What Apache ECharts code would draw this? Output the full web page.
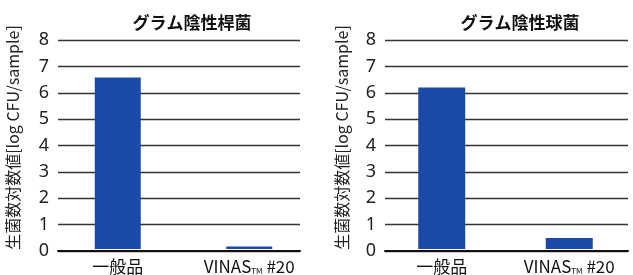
<!DOCTYPE html>
<html>
<head>
<meta charset="utf-8">
<script src="https://cdn.jsdelivr.net/npm/echarts@6/dist/echarts.min.js"></script>
<style>
  html, body { margin: 0; padding: 0; background: #fff; }
  #chart { width: 633px; height: 275px; }
</style>
</head>
<body>
<div id="chart"></div>
<script>
const categories = ['一般品', 'VINAS™ #20'];
const titles = ['グラム陰性桿菌', 'グラム陰性球菌'];
const rodValues = [6.56, 0.1];
const coccusValues = [6.18, 0.42];
const yMin = 0, yMax = 8, yStep = 1;
const yName = '生菌数対数値[log CFU/sample]';

const jp = '"Noto Sans CJK JP", "Noto Sans", sans-serif';
const barColor = '#1a49aa';

// category label: small "TM" after VINAS
function catLabel(v) {
  if (v.indexOf('™') < 0) return '{a|' + v + '}';
  const parts = v.split('™');
  return '{a|' + parts[0] + '}{tm|TM}{a|' + parts[1] + '}';
}

const labelRich = {
  a: { fontFamily: jp, fontSize: 17, color: '#111' },
  tm: { fontFamily: jp, fontSize: 8, color: '#111', verticalAlign: 'bottom', padding: [7, 0, 0, 0] }
};

// grids: line grid (gridlines, y ticks) + bar grid per panel
const grids = [
  { left: 58, right: 333, top: 40, bottom: 24 },
  { left: 52, width: 263, top: 40, bottom: 24 },
  { left: 385, right: 5, top: 40, bottom: 24 },
  { left: 378, width: 267, top: 40, bottom: 24 }
];

function lineX(gi) {
  return {
    type: 'category', gridIndex: gi, data: categories,
    axisLabel: { show: false }, axisTick: { show: false },
    axisLine: { lineStyle: { color: '#111', width: 2 } }
  };
}
function barX(gi) {
  return {
    type: 'category', gridIndex: gi, data: categories,
    axisLine: { show: false }, axisTick: { show: false },
    axisLabel: { interval: 0, margin: 9, formatter: catLabel, rich: labelRich }
  };
}
function lineY(gi, gap) {
  return {
    type: 'value', gridIndex: gi, min: yMin, max: yMax, interval: yStep,
    name: yName, nameLocation: 'middle', nameGap: gap,
    nameTextStyle: { fontFamily: jp, fontSize: 16, color: '#222', padding: [0, 0, 0, 16] },
    axisLine: { show: false }, axisTick: { show: false },
    axisLabel: { margin: 9, fontFamily: '"Noto Sans", sans-serif', fontSize: 18, color: '#222' },
    splitLine: { lineStyle: { color: '#333', width: 1.3 } }
  };
}
function barY(gi) {
  return { type: 'value', gridIndex: gi, min: yMin, max: yMax, interval: yStep, show: false, splitLine: { show: false } };
}

const option = {
  animation: false,
  backgroundColor: '#fff',
  title: [
    { text: titles[0], left: 187, top: 9, textAlign: 'center',
      textStyle: { fontFamily: jp, fontSize: 17, fontWeight: 'bold', color: '#111' } },
    { text: titles[1], left: 515, top: 9, textAlign: 'center',
      textStyle: { fontFamily: jp, fontSize: 17, fontWeight: 'bold', color: '#111' } }
  ],
  grid: grids,
  xAxis: [lineX(0), barX(1), lineX(2), barX(3)],
  yAxis: [lineY(0, 37), barY(1), lineY(2, 35), barY(3)],
  series: [
    { type: 'bar', xAxisIndex: 1, yAxisIndex: 1, data: rodValues, barWidth: 46,
      itemStyle: { color: barColor } },
    { type: 'bar', xAxisIndex: 3, yAxisIndex: 3, data: coccusValues, barWidth: 47,
      itemStyle: { color: barColor } }
  ]
};

const chart = echarts.init(document.getElementById('chart'));
chart.setOption(option);
</script>
</body>
</html>
